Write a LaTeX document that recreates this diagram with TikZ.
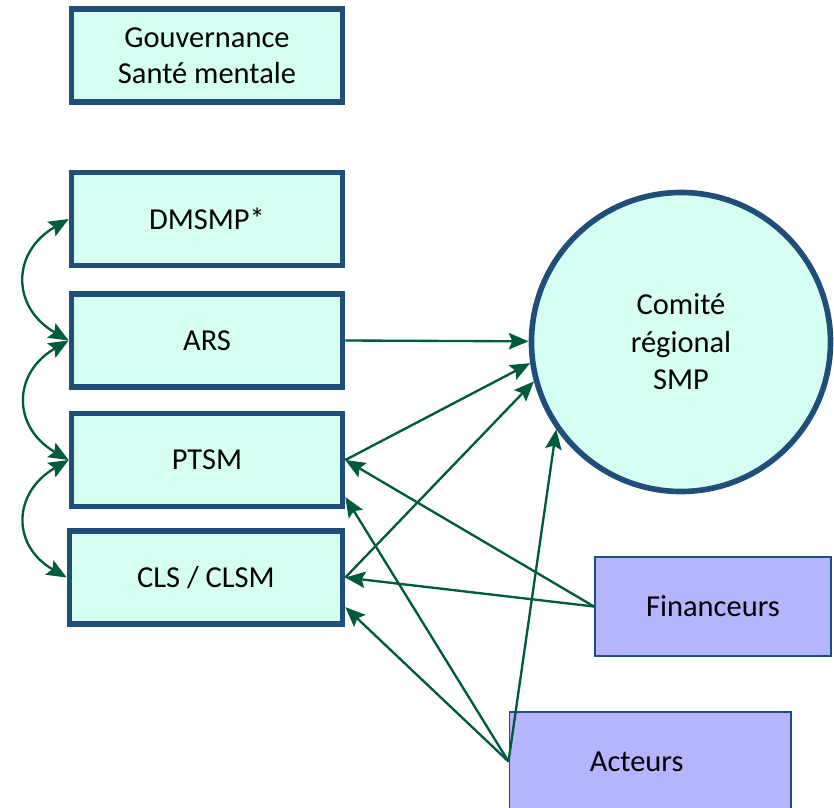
\documentclass[tikz,border=0pt]{standalone}
\usepackage{fontspec}
\setmainfont{Carlito}
\usepackage{tikz}
\usetikzlibrary{arrows.meta,shapes}
\definecolor{smblue}{RGB}{31,78,121}
\definecolor{smcyan}{RGB}{214,255,244}
\definecolor{smviolet}{RGB}{180,180,255}
\definecolor{smgreen}{RGB}{0,90,60}
\tikzstyle{link} = [line width=2pt,->,>={Stealth[length=17pt,width=14pt,inset=3pt]},color=smgreen]
\tikzstyle{instance} = [rectangle, minimum width=8.13cm, minimum height=2.8cm, text centered, align=center, draw=smblue, fill=smcyan, line width=4.8pt, font=\fontsize{26}{31}\selectfont]
\tikzstyle{partner} = [rectangle, minimum width=7.08cm, minimum height=2.97cm, text centered, align=center, draw=smblue, fill=smviolet, line width=1.7pt, font=\fontsize{26}{31}\selectfont]

\begin{document}
\begin{tikzpicture}[x=0.03cm, y=-0.03cm]
    \useasboundingbox (0,0) rectangle (834,808);

    % Instances
    \node[instance] (gouv) at (207, 55.5) {Gouvernance\\Santé mentale};
    \node[instance] (dmsmp) at (207, 219) {DMSMP*};
    \node[instance] (ars) at (207, 340.5) {ARS};
    \node[instance] (ptsm) at (207, 460) {PTSM};
    \node[instance, minimum width=8.19cm] (cls) at (206, 577.5) {CLS / CLSM};

    % Comite regional
    \node[circle, minimum size=8.97cm, align=center, draw=smblue, fill=smcyan, line width=4.8pt, font=\fontsize{26}{32}\selectfont] (comite) at (681, 342) {Comité\\régional\\SMP};

    % Partenaires
    \node[partner] (fin) at (713, 606.5) {Financeurs};
    \node[partner, minimum width=8.43cm] (act) at (650, 761.5) {Acteurs\hspace*{0.8cm}};

    % Liens entre instances
    \draw[link, <->] (dmsmp.west) to[out=210, in=150, looseness=1.4] (ars.west);
    \draw[link, <->] (ars.west) to[out=210, in=150, looseness=1.4] (ptsm.west);
    \draw[link, <->] (ptsm.west) to[out=210, in=150, looseness=1.4] (cls.west);

    % Vers le comite
    \draw[link] (ars.east) -- (comite);
    \draw[link] (ptsm.east) -- (comite.188);
    \draw[link] (cls.east) -- (comite.195);
    \draw[link] (act.west) -- (comite.215);

    % Financeurs et acteurs
    \draw[link] (fin.west) -- (ptsm.east);
    \draw[link] (fin.west) -- (cls.east);
    \draw[link] (act.west) -- (ptsm.-15);
    \draw[link] (act.west) -- (cls.-12);
\end{tikzpicture}
\end{document}
